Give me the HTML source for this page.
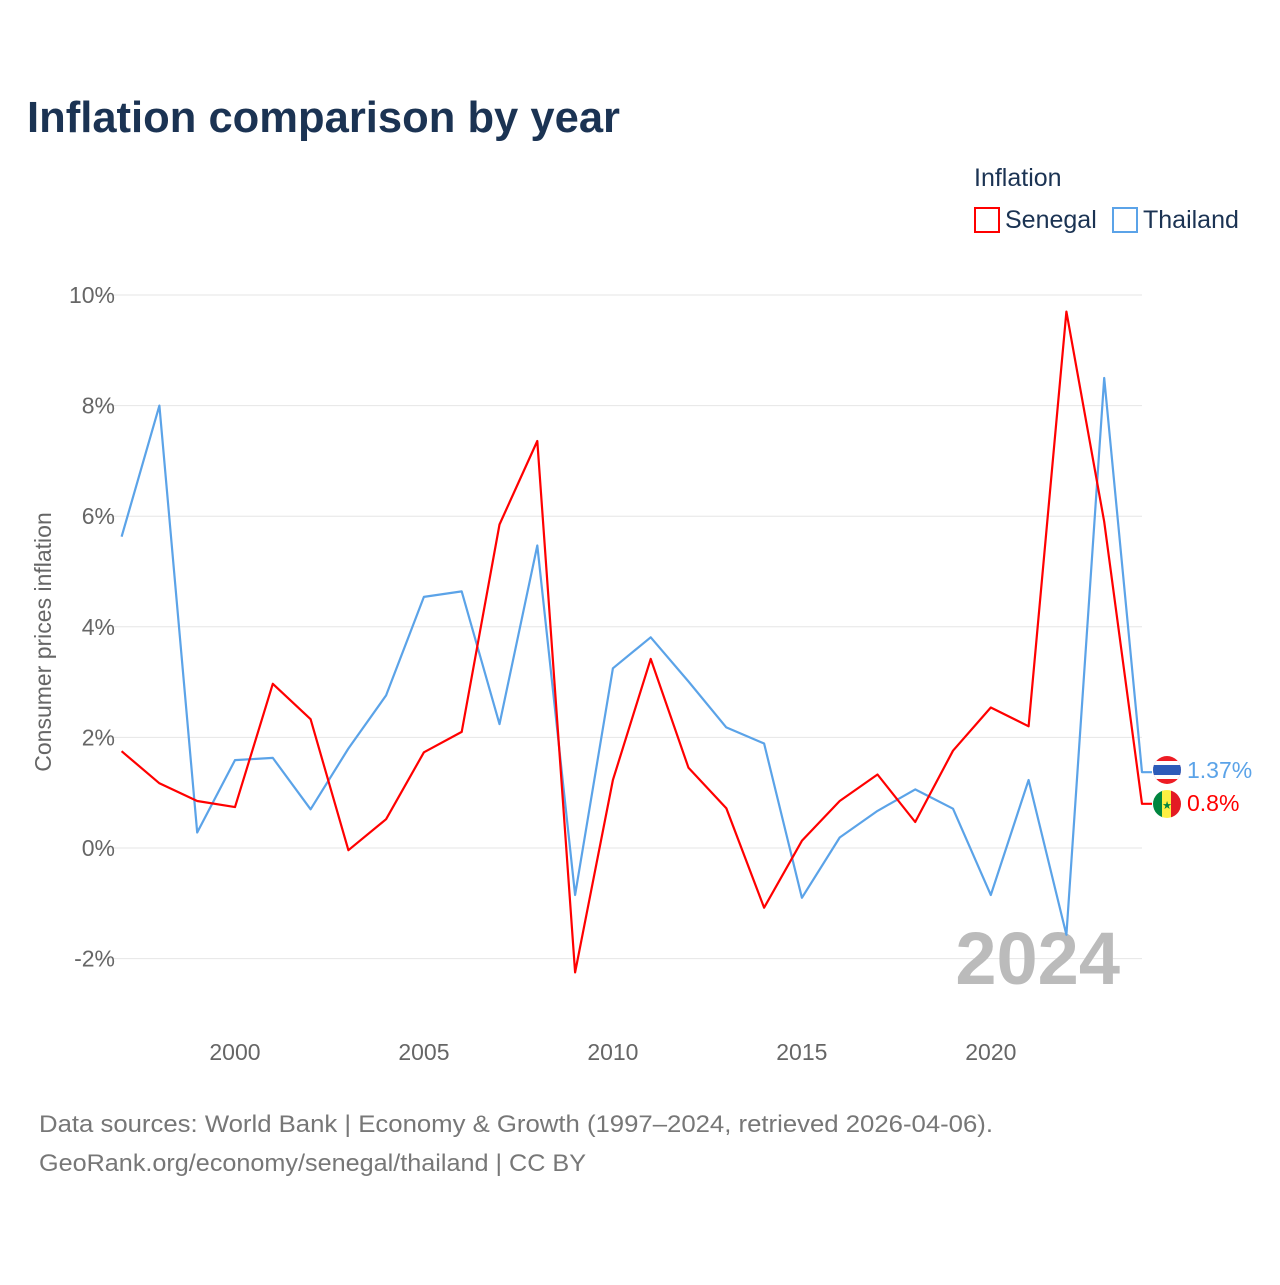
<!DOCTYPE html>
<html><head><meta charset="utf-8">
<style>
body{margin:0;background:#fff;font-family:"Liberation Sans",sans-serif;}
svg text{font-family:"Liberation Sans",sans-serif;}
</style></head>
<body>
<svg id="chart" width="1280" height="1280" viewBox="0 0 1280 1280">
<text x="27" y="132" font-size="44" font-weight="bold" fill="#1b3353" textLength="593" lengthAdjust="spacingAndGlyphs">Inflation comparison by year</text>
<g>
<text x="974" y="186" font-size="25" fill="#1b3353">Inflation</text>
<g><rect x="975" y="208" width="24" height="24" fill="none" stroke="#f00" stroke-width="2"/><text x="1005" y="228" font-size="25" fill="#1b3353">Senegal</text></g>
<g><rect x="1113" y="208" width="24" height="24" fill="none" stroke="#5ba3e8" stroke-width="2"/><text x="1143" y="228" font-size="25" fill="#1b3353">Thailand</text></g>
</g>
<g id="grid"></g>
<g id="yticks"></g>
<g id="xticks"></g>
<text transform="translate(51,642) rotate(-90)" text-anchor="middle" font-size="23" fill="#666">Consumer prices inflation</text>
<text x="1120" y="984" text-anchor="end" font-size="74" font-weight="bold" fill="#bbb">2024</text>
<g id="series"></g>
<g>
<g><clipPath id="c1"><circle cx="1167" cy="770" r="14"/></clipPath><g clip-path="url(#c1)"><rect x="1153" y="756" width="28" height="28" fill="#ed1c24"/><rect x="1153" y="761" width="28" height="18" fill="#fff"/><rect x="1153" y="765" width="28" height="10" fill="#2d5bb9"/></g></g>
<text x="1187" y="778" font-size="23" fill="#5ba3e8">1.37%</text>
<g><clipPath id="c2"><circle cx="1167" cy="804" r="14"/></clipPath><g clip-path="url(#c2)"><rect x="1153" y="790" width="10" height="28" fill="#00853f"/><rect x="1162" y="790" width="10" height="28" fill="#fdef42"/><rect x="1171" y="790" width="10" height="28" fill="#e31b23"/></g><text x="1167" y="809" text-anchor="middle" font-size="11" fill="#00853f">★</text></g>
<text x="1187" y="811" font-size="23" fill="#f00">0.8%</text>
</g>
<text x="39" y="1132" font-size="24" fill="#777" textLength="954" lengthAdjust="spacingAndGlyphs">Data sources: World Bank | Economy &amp; Growth (1997–2024, retrieved 2026-04-06).</text>
<text x="39" y="1171" font-size="24" fill="#777" textLength="547" lengthAdjust="spacingAndGlyphs">GeoRank.org/economy/senegal/thailand | CC BY</text>
</svg>
<script>
const years=[1997,1998,1999,2000,2001,2002,2003,2004,2005,2006,2007,2008,2009,2010,2011,2012,2013,2014,2015,2016,2017,2018,2019,2020,2021,2022,2023,2024];
const senegal=[1.75,1.17,0.85,0.74,2.97,2.33,-0.04,0.52,1.73,2.1,5.85,7.36,-2.25,1.23,3.42,1.45,0.72,-1.08,0.13,0.85,1.33,0.47,1.76,2.54,2.2,9.7,5.9,0.8];
const thailand=[5.63,8.0,0.28,1.59,1.63,0.7,1.8,2.76,4.54,4.64,2.24,5.47,-0.85,3.25,3.81,3.01,2.18,1.89,-0.9,0.19,0.67,1.06,0.71,-0.85,1.23,-1.57,8.5,1.37];
const yTicks=[-2,0,2,4,6,8,10];
const xTicks=[2000,2005,2010,2015,2020];
const NS="http://www.w3.org/2000/svg";
const xs=y=>121.6+(y-1997)*(1142-121.6)/27;
const ys=v=>848-v*55.3;
function mk(t,a,p){const e=document.createElementNS(NS,t);for(const k in a)e.setAttribute(k,a[k]);p.appendChild(e);return e;}
const grid=document.getElementById('grid'),yt=document.getElementById('yticks'),xt=document.getElementById('xticks'),se=document.getElementById('series');
yTicks.forEach(v=>{
const l=mk('line',{x1:98,x2:1142,y1:ys(v),y2:ys(v),stroke:'#e6e6e6','stroke-width':1},grid);


const t=mk('text',{x:115,y:ys(v)+8,'text-anchor':'end','font-size':23,fill:'#666'},yt);
t.textContent=v+'%';


});
xTicks.forEach(v=>{
const t=mk('text',{x:xs(v),y:1060,'text-anchor':'middle','font-size':23,fill:'#666'},xt);
t.textContent=v;


});
function line(vals,col,name){
let d=vals.map((v,i)=>(i?'L':'M')+xs(years[i]).toFixed(1)+','+ys(v).toFixed(1)).join(' ');
d+=' L1152,'+ys(vals[vals.length-1]).toFixed(1);
const p=mk('path',{d:d,fill:'none',stroke:col,'stroke-width':2.2,'stroke-linejoin':'round'},se);


}
line(thailand,'#5ba3e8','thailand-line');
line(senegal,'#f00','senegal-line');
</script>
</body></html>
